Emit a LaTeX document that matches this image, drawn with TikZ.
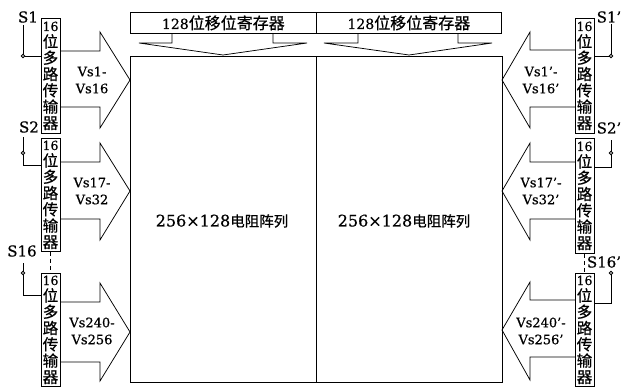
\documentclass[tikz,border=0pt]{standalone}
\usepackage{fontspec}
\setmainfont[FakeBold=0.6]{DejaVu Serif}
\newfontfamily\cjk[FakeBold=0.7]{Noto Sans CJK SC}
\newcommand\muxtxt{{\fontsize{12.5}{16.3}\selectfont 16}\\{\cjk 位}\\{\cjk 多}\\{\cjk 路}\\{\cjk 传}\\{\cjk 输}\\{\cjk 器}}
% left big arrow: #1 stem top, #2 stem bottom, #3 head top, #4 tip, #5 head bottom
\newcommand\bigarrowL[5]{\draw (60,#1) -- (100,#1) -- (100,#3) -- (130,#4) -- (100,#5) -- (100,#2) -- (60,#2);}
\newcommand\bigarrowR[5]{\draw (575,#1) -- (530,#1) -- (530,#3) -- (502,#4) -- (530,#5) -- (530,#2) -- (575,#2);}
\begin{document}
\begin{tikzpicture}[x=1pt,y=-1pt,line width=0.75pt,
  box/.style={draw, inner sep=0pt},
  muxbox/.style={draw, inner sep=0pt, minimum width=19pt, anchor=north, align=center,
    font=\fontsize{15.5}{16.3}\selectfont},
  vslabel/.style={align=center, inner sep=0pt, font=\fontsize{13}{17}\selectfont},
  slabel/.style={inner sep=0pt, font=\fontsize{15}{16}\selectfont},
  pin/.style={draw, fill=white, circle, inner sep=0pt, minimum size=3.5pt},
  dashline/.style={line width=1.6pt, dash pattern=on 4pt off 3pt}]
\useasboundingbox (0,0) rectangle (631,386);
% registers
\node[box, minimum width=186pt, minimum height=21pt, anchor=north west,
  font=\fontsize{14}{16}\selectfont] (reg1) at (130,12) {128{\cjk\fontsize{16}{16}\selectfont 位移位寄存器}};
\node[box, minimum width=185pt, minimum height=21pt, anchor=north west,
  font=\fontsize{14}{16}\selectfont] (reg2) at (316,12) {128{\cjk\fontsize{16}{16}\selectfont 位移位寄存器}};
% array
\node[box, minimum width=186pt, minimum height=326pt, anchor=north west] (arrL) at (130,56) {};
\node[box, minimum width=186pt, minimum height=326pt, anchor=north west] (arrR) at (316,56) {};
\node[inner sep=0pt, font=\fontsize{16}{18}\selectfont] (tL) at (222,221) {256×128{\cjk\fontsize{14.5}{16}\selectfont 电阻阵列}};
\node[inner sep=0pt, font=\fontsize{16}{18}\selectfont] (tR) at (404,221) {256×128{\cjk\fontsize{14.5}{16}\selectfont 电阻阵列}};
% down arrows
\draw (172,33) -- (172,43) -- (139,43) -- (223,55) -- (307,43) -- (273,43) -- (273,33);
\draw (358,33) -- (358,43) -- (324,43) -- (409,55) -- (492,43) -- (458,43) -- (458,33);
% left muxes
\node[muxbox, minimum height=115pt] (m1) at (50.5,18) {\muxtxt};
\node[muxbox, minimum height=113pt] (m2) at (50.5,138) {\muxtxt};
\node[muxbox, minimum height=113pt] (m3) at (50.5,273) {\muxtxt};
% right muxes
\node[muxbox, minimum height=115pt] (n1) at (584.5,18) {\muxtxt};
\node[muxbox, minimum height=115pt] (n2) at (584.5,138) {\muxtxt};
\node[muxbox, minimum height=113pt] (n3) at (584.5,273) {\muxtxt};
% big arrows
\bigarrowL{51}{107}{32}{80}{128}
\bigarrowL{162}{219}{143}{191}{240}
\bigarrowL{302}{362}{283}{332}{381}
\bigarrowR{50}{107}{32}{80}{128}
\bigarrowR{162}{219}{143}{191}{240}
\bigarrowR{300}{357}{282}{330}{380}
% arrow labels
\node[vslabel] (v1) at (92,80) {Vs1-\\Vs16};
\node[vslabel] (v2) at (92,191) {Vs17-\\Vs32};
\node[vslabel] (v3) at (92,331) {Vs240-\\Vs256};
\node[vslabel] (w1) at (541,80) {Vs1’-\\Vs16’};
\node[vslabel] (w2) at (541,191) {Vs17’-\\Vs32’};
\node[vslabel] (w3) at (541,331) {Vs240’-\\Vs256’};
% dashed links
\draw[dashline] (m2.south) -- (m3.north);
\draw[dashline] (n2.south) -- (n3.north);
% S labels and pins
\node[slabel] (s1) at (28,17) {S1};
\node[slabel] (s2) at (29,127) {S2};
\node[slabel] (s16) at (22,251) {S16};
\node[slabel] (t1) at (609,17) {S1’};
\node[slabel] (t2) at (609,128) {S2’};
\node[slabel] (t16) at (604,262) {S16’};
\coordinate (a1) at (23,25);
\coordinate (a2) at (23,137);
\coordinate (a3) at (23,263);
\coordinate (c1) at (23,56);
\coordinate (c2) at (23,165);
\coordinate (c3) at (23,295);
\draw (a1) -- (c1) -- (m1.west |- c1);
\draw (a2) -- (c2) -- (m2.west |- c2);
\draw (a3) -- (c3) -- (m3.west |- c3);
\node[pin] (p1) at (23,56) {};
\node[pin] (p2) at (23,153) {};
\node[pin] (p3) at (23,273) {};
\coordinate (b1) at (611,24);
\coordinate (b2) at (611,140);
\coordinate (b3) at (611,273);
\coordinate (d1) at (611,56);
\coordinate (d2) at (611,167);
\coordinate (d3) at (611,303);
\draw (b1) -- (d1) -- (n1.east |- d1);
\draw (b2) -- (d2) -- (n2.east |- d2);
\draw (b3) -- (d3) -- (n3.east |- d3);
\node[pin] (q1) at (611,56) {};
\node[pin] (q2) at (611,153) {};
\node[pin] (q3) at (611,273) {};
\end{tikzpicture}
\end{document}
